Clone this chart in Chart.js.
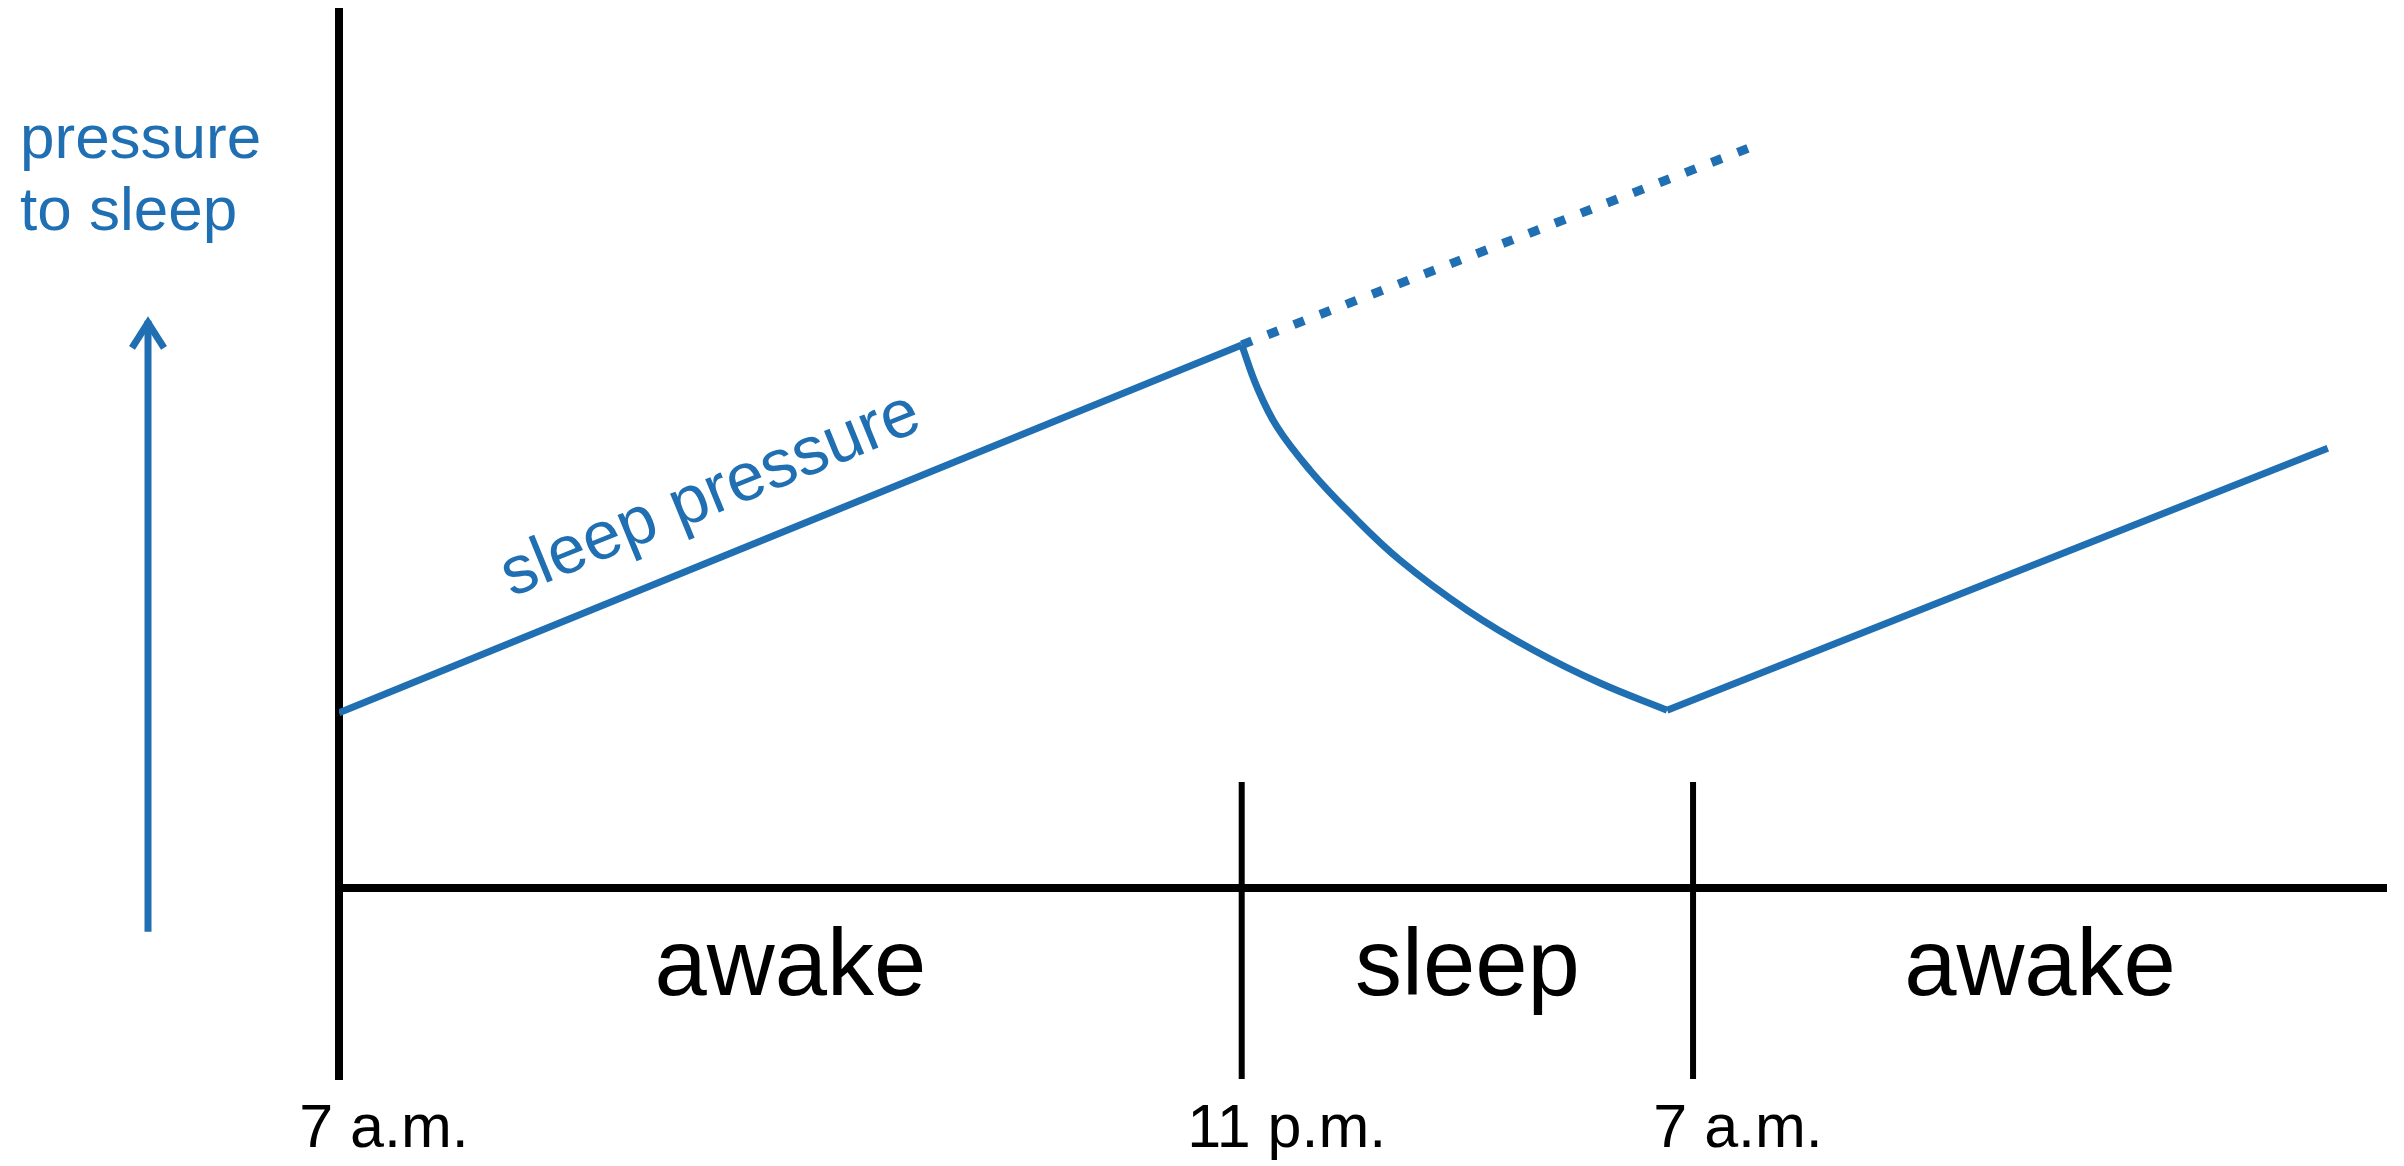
<!DOCTYPE html>
<html lang="en">
<head>
    <meta charset="UTF-8">
    <meta name="viewport" content="width=device-width, initial-scale=1.0">
    <title>sleep pressure</title>
    <script src="https://cdn.jsdelivr.net/npm/chart.js@4.4.1/dist/chart.umd.min.js"></script>
    <style>
        body{
            margin: 0;
            background-color: #ffffff;
        }
        canvas{
            display: block;
        }
    </style>
</head>
<body>
    <canvas id="sleepChart" width="2404" height="1166"></canvas>
    <script>
        // x = hours after 7 a.m., y = sleep pressure (arbitrary units, 0 = time axis)
        const tickHours = [0, 16, 24];
        const tickLabels = ['7 a.m.', '11 p.m.', '7 a.m.'];
        const phaseBounds = [0, 16, 24, 36.3];
        const phaseLabels = ['awake', 'sleep', 'awake'];

        const awake1X = [0, 16];
        const awake1Y = [20, 62];
        const noSleepX = [16, 25.2];
        const noSleepY = [62, 85];
        const sleepX = [16, 16.27, 16.63, 17.21, 17.92, 18.81, 20.0, 21.16, 22.35, 23.54];
        const sleepY = [62, 57.2, 52.6, 47.7, 42.8, 37.4, 31.7, 27.2, 23.4, 20.3];
        const awake2X = [23.54, 35.25];
        const awake2Y = [20.3, 50.2];

        const yMin = -21.8;
        const yMax = 100;
        const xMax = 36.3;
        const sepTop = 12.1;
        const phaseLabelY = -12.2;
        const arrowY = [-5, 65.2];

        const blue = '#1f6fb2';
        const font = '"Liberation Sans", Arial, sans-serif';

        const pts = (xs, ys) => xs.map((v, i) => ({x: v, y: ys[i]}));

        const textPlugin = {
            id: 'texts',
            afterDatasetsDraw(chart){
                const ctx = chart.ctx;
                const x = chart.scales.x;
                const y = chart.scales.y;
                ctx.save();

                // awake / sleep / awake
                ctx.fillStyle = '#000';
                ctx.font = `94px ${font}`;
                ctx.textAlign = 'center';
                ctx.textBaseline = 'alphabetic';
                phaseLabels.forEach((t, i) => {
                    const cx = x.getPixelForValue((phaseBounds[i] + phaseBounds[i + 1]) / 2);
                    ctx.fillText(t, cx, y.getPixelForValue(phaseLabelY));
                });

                // label along the first rising line
                const x0 = x.getPixelForValue(awake1X[0]), y0 = y.getPixelForValue(awake1Y[0]);
                const x1 = x.getPixelForValue(awake1X[1]), y1 = y.getPixelForValue(awake1Y[1]);
                const ang = Math.atan2(y1 - y0, x1 - x0);
                const t = 7 / 16;
                ctx.translate(x0 + (x1 - x0) * t, y0 + (y1 - y0) * t);
                ctx.rotate(ang);
                ctx.fillStyle = blue;
                ctx.font = `68px ${font}`;
                ctx.fillText('sleep pressure', 0, -42);
                ctx.setTransform(1, 0, 0, 1, 0, 0);

                // y title
                ctx.textAlign = 'left';
                ctx.font = `62px ${font}`;
                ctx.fillText('pressure', 20, 158);
                ctx.fillText('to sleep', 20, 230);

                // arrow
                const ab = y.getPixelForValue(arrowY[0]);
                const at = y.getPixelForValue(arrowY[1]);
                ctx.strokeStyle = blue;
                ctx.lineWidth = 7;
                ctx.beginPath();
                ctx.moveTo(148, ab);
                ctx.lineTo(148, at + 4);
                ctx.stroke();
                ctx.beginPath();
                ctx.moveTo(132, at + 31);
                ctx.lineTo(148, at + 6);
                ctx.lineTo(164, at + 31);
                ctx.stroke();

                ctx.restore();
            }
        };

        const blackLine = (data, w) => ({
            data: data,
            borderColor: '#000',
            borderWidth: w,
            pointRadius: 0
        });

        new Chart(document.getElementById('sleepChart'), {
            type: 'line',
            data: {
                datasets: [
                    blackLine(pts([0, xMax], [0, 0]), 8),
                    blackLine(pts([tickHours[1], tickHours[1]], [sepTop, yMin]), 6),
                    blackLine(pts([tickHours[2], tickHours[2]], [sepTop, yMin]), 6),
                    {
                        data: pts(awake1X, awake1Y),
                        borderColor: blue,
                        borderWidth: 7,
                        pointRadius: 0
                    },
                    {
                        data: pts(noSleepX, noSleepY),
                        borderColor: blue,
                        borderWidth: 9,
                        borderDash: [11, 17],
                        pointRadius: 0
                    },
                    {
                        data: pts(sleepX, sleepY),
                        borderColor: blue,
                        borderWidth: 7,
                        tension: 0.4,
                        pointRadius: 0
                    },
                    {
                        data: pts(awake2X, awake2Y),
                        borderColor: blue,
                        borderWidth: 7,
                        pointRadius: 0
                    }
                ]
            },
            options: {
                responsive: false,
                animation: false,
                layout: {
                    padding: {left: 339, top: 12, right: 17, bottom: 0}
                },
                plugins: {
                    legend: {display: false},
                    tooltip: {enabled: false}
                },
                scales: {
                    x: {
                        type: 'linear',
                        min: 0,
                        max: xMax,
                        grid: {display: false, drawTicks: false},
                        border: {display: false},
                        afterBuildTicks: s => { s.ticks = tickHours.map(v => ({value: v})); },
                        afterFit: s => { s.height = 87; },
                        ticks: {
                            color: '#000',
                            font: {family: font, size: 61},
                            padding: 15,
                            labelOffset: 45,
                            maxRotation: 0,
                            autoSkip: false,
                            callback: v => tickLabels[tickHours.indexOf(v)]
                        }
                    },
                    y: {
                        min: yMin,
                        max: yMax,
                        grid: {display: false, drawTicks: false},
                        border: {display: true, color: '#000', width: 8},
                        ticks: {display: false},
                        afterFit: s => { s.width = 0; }
                    }
                }
            },
            plugins: [textPlugin]
        });
    </script>
</body>
</html>
